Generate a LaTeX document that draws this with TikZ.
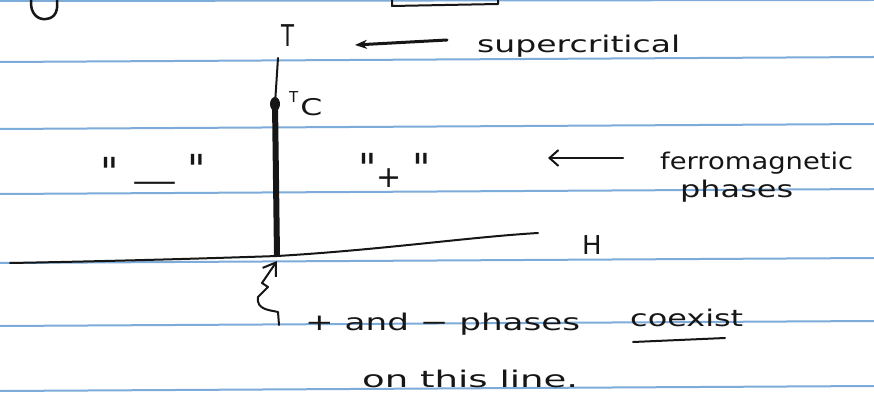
\documentclass[tikz,border=0pt]{standalone}
\usepackage{fontspec}
\setmainfont{DejaVu Sans}
\usetikzlibrary{arrows.meta}
\definecolor{rulecol}{RGB}{125,172,218}
\definecolor{ink}{RGB}{22,22,22}
\newcommand\fitw[2]{\resizebox{#1}{\height}{#2}}
\begin{document}
\begin{tikzpicture}[x=1pt,y=-1pt,
  ruleline/.style={draw=rulecol,line width=2pt},
  inkline/.style={draw=ink,line width=2pt,line cap=round,line join=round},
  hand/.style={text=ink,inner sep=0pt,font=\fontsize{23}{26}\selectfont},
  bighand/.style={hand,font=\fontsize{30}{34}\selectfont},
  quotemark/.style={hand,font=\fontsize{40}{44}\selectfont},
]
\useasboundingbox (0,0) rectangle (874,403);
\fill[white] (0,0) rectangle (874,403);
% ruled paper
\draw[ruleline] (0,1) -- (874,0);
\draw[ruleline] (0,62) -- (874,57);
\draw[ruleline] (0,129) -- (874,124);
\draw[ruleline] (0,194) -- (874,189);
\draw[ruleline] (0,263) -- (874,258);
\draw[ruleline] (0,326) -- (874,321);
\draw[ruleline] (0,391) -- (874,386);
% remnants of previous lines of writing
\draw[inkline,line width=2.5pt] (31,0) .. controls (30,14) and (38,20) .. (46,19) .. controls (56,18) and (58,10) .. (57,0);
\draw[inkline] (392,0) -- (392,6) -- (498,4) -- (498,0);
% axes
\coordinate (vtop) at (278,58);
\coordinate (tcpt) at (275,104);
\coordinate (orig) at (277,256);
\coordinate (hleft) at (10,263);
\coordinate (hright) at (538,233);
\draw[inkline] (vtop) -- (tcpt);
\draw[inkline,line width=6pt,line cap=butt] (tcpt) -- (orig);
\fill[ink] (tcpt) ellipse (5pt and 7pt);
\draw[inkline] (hleft) .. controls (120,261) and (220,258) .. (orig) .. controls (380,250) and (470,237) .. (hright);
% labels
\node[bighand,anchor=base] (tlab) at (288,47) {\fitw{13pt}{T}};
\node[hand,anchor=base west] (super) at (477,53) {\fitw{203pt}{supercritical}};
\node[hand,anchor=base west] (tc) at (289,103) {{\fontsize{15}{15}\selectfont T}\hspace{2pt}\raisebox{-13pt}{\fitw{22pt}{C}}};
\node[quotemark] (qa) at (110,172) {\textquotedbl};
\node[bighand] (dash) at (155,187) {\fitw{45pt}{—}};
\node[quotemark] (qb) at (197,169) {\textquotedbl};
\node[quotemark] (qc) at (368,168) {\textquotedbl};
\node[bighand] (plus) at (389,178) {+};
\node[quotemark] (qd) at (422,168) {\textquotedbl};
\node[hand,anchor=base west] (ferro) at (660,170) {\fitw{193pt}{ferromagnetic}};
\node[hand,anchor=base west] (phs) at (680,197) {\fitw{113pt}{phases}};
\node[hand,font=\fontsize{26}{30}\selectfont] (hlab) at (592,245) {H};
\node[hand,anchor=base west] (coex1) at (305,330) {\fitw{275pt}{+ and − phases}};
\node[hand,anchor=base west] (coex2) at (630,326) {\fitw{113pt}{coexist}};
\node[hand,anchor=base west] (line) at (362,387) {\fitw{216pt}{on this line.}};
% arrows
\coordinate (sa1) at (447,40);
\coordinate (sa2) at (355,45);
\draw[inkline,line width=3pt,-{Stealth[length=12pt,width=9pt]}] (sa1) -- (sa2);
\coordinate (fa1) at (623,158);
\coordinate (fa2) at (548,158);
\draw[inkline,-{Straight Barb[length=9pt,width=16pt]}] (fa1) -- (fa2);
\coordinate (qs) at (279,325);
\coordinate (qt) at (277,261);
\draw[inkline,-{Straight Barb[length=12pt,width=16pt]}] (qs) -- (278,312) .. controls (270,310) and (256,310) .. (258,297) -- (268,287) -- (262,283) -- (qt);
\draw[inkline] (633,342) -- (725,338);
\end{tikzpicture}
\end{document}
